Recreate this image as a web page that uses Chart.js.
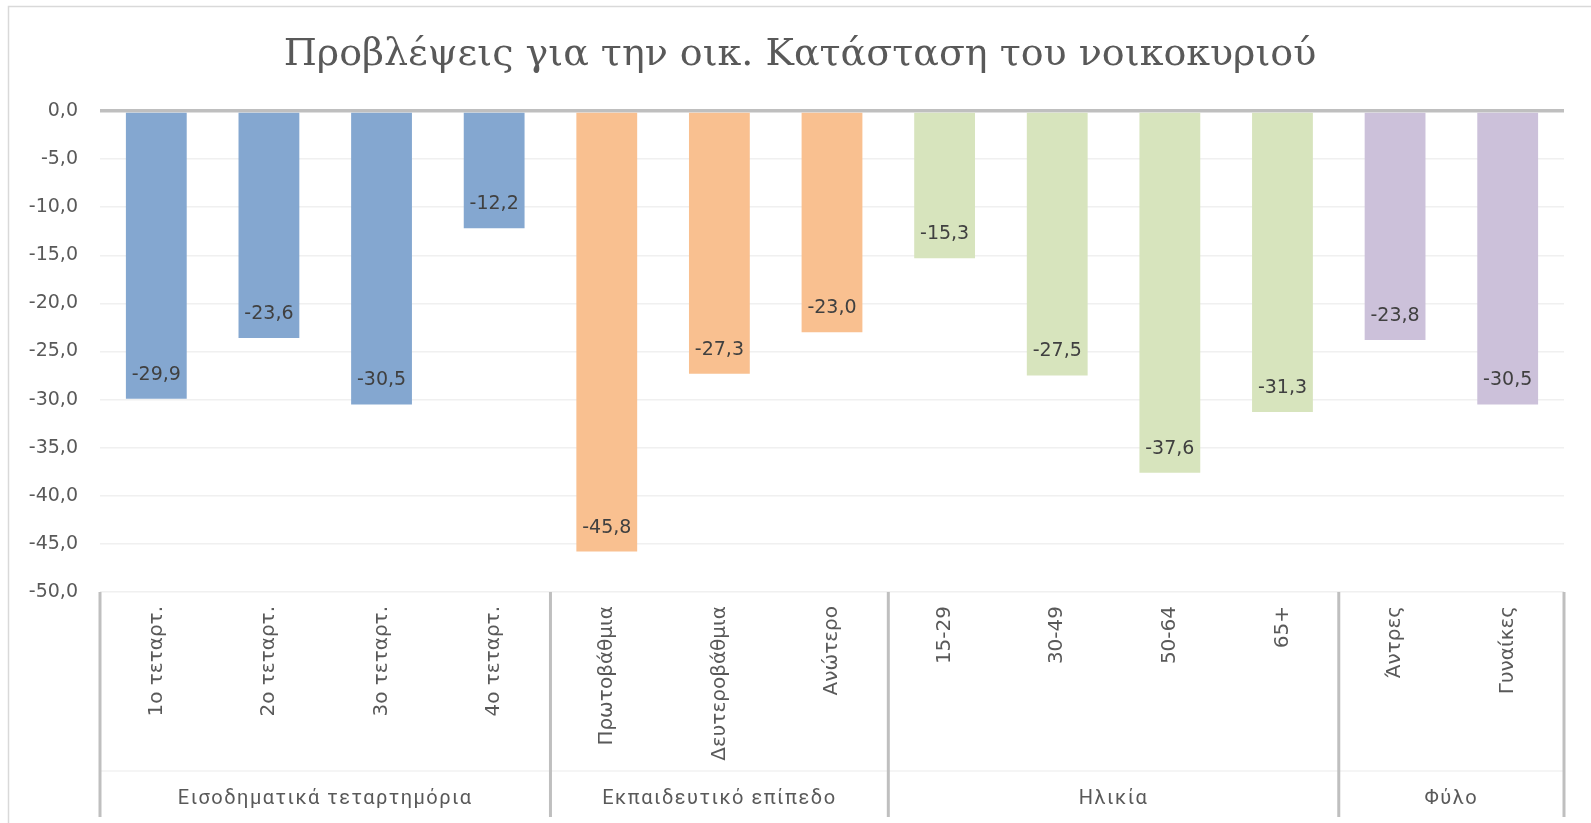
<!DOCTYPE html>
<html>
<head>
<meta charset="utf-8">
<script src="https://cdn.jsdelivr.net/npm/chart.js@4.4.1/dist/chart.umd.min.js"></script>
<style>
  html, body { margin: 0; padding: 0; background: #ffffff; overflow: hidden; }
  #wrap { position: relative; width: 1591px; height: 823px; }
</style>
</head>
<body>
<div id="wrap"><canvas id="c" width="1591" height="823"></canvas></div>
<script>
// ---- Data ----
const titleText = 'Προβλέψεις για την οικ. Κατάσταση του νοικοκυριού';
const categories = ['1ο τεταρτ.', '2ο τεταρτ.', '3ο τεταρτ.', '4ο τεταρτ.', 'Πρωτοβάθμια', 'Δευτεροβάθμια', 'Ανώτερο', '15-29', '30-49', '50-64', '65+', 'Άντρες', 'Γυναίκες'];
const values = [-29.9, -23.6, -30.5, -12.2, -45.8, -27.3, -23.0, -15.3, -27.5, -37.6, -31.3, -23.8, -30.5];
const groupNames = ['Εισοδηματικά τεταρτημόρια', 'Εκπαιδευτικό επίπεδο', 'Ηλικία', 'Φύλο'];
const groupSizes = [4, 3, 4, 2];
const yMin = -50, yMax = 0, yStep = 5;

// ---- Styles ----
const groupColors = ['#84a7d0', '#f9c090', '#d7e4bd', '#ccc1da'];
const barColors = [];
groupSizes.forEach((n, g) => { for (let i = 0; i < n; i++) barColors.push(groupColors[g]); });
const fmt = v => (Math.abs(v) < 1e-9 ? 0 : v).toFixed(1).replace('.', ',');
const numFont = "'DejaVu Sans', 'Noto Sans', sans-serif";

const groupAxisPlugin = {
  id: 'groupAxis',
  beforeDraw(chart) {
    const ctx = chart.ctx;
    ctx.save();
    ctx.strokeStyle = '#d9d9d9';
    ctx.lineWidth = 1.5;
    ctx.strokeRect(8.5, 6.5, 1620, 840);
    ctx.fillStyle = '#595959';
    ctx.font = "38px 'DejaVu Serif', 'Liberation Serif', serif";
    ctx.textAlign = 'center';
    ctx.textBaseline = 'alphabetic';
    ctx.fillText(titleText, (chart.width + 9) / 2, 65);
    ctx.restore();
  },
  afterDraw(chart) {
    const ctx = chart.ctx;
    const xs = chart.scales.x;
    const area = chart.chartArea;
    const n = categories.length;
    const half = (xs.getPixelForValue(1) - xs.getPixelForValue(0)) / 2;
    const bottom = area.bottom + 225;
    const rowLine = area.bottom + 179;
    ctx.save();
    ctx.strokeStyle = '#f2f2f2';
    ctx.lineWidth = 1.5;
    ctx.beginPath();
    ctx.moveTo(area.left, rowLine);
    ctx.lineTo(area.right, rowLine);
    ctx.stroke();
    ctx.strokeStyle = '#bfbfbf';
    ctx.lineWidth = 3;
    let idx = 0;
    const bounds = [0];
    groupSizes.forEach(s => { idx += s; bounds.push(idx); });
    bounds.forEach(b => {
      const x = b < n ? xs.getPixelForValue(b) - half : xs.getPixelForValue(n - 1) + half;
      ctx.beginPath();
      ctx.moveTo(x, area.bottom);
      ctx.lineTo(x, bottom);
      ctx.stroke();
    });
    ctx.fillStyle = '#595959';
    ctx.font = "20px 'Liberation Sans Narrow', 'Roboto', sans-serif";
    try { ctx.letterSpacing = '1.5px'; } catch (e) {}
    ctx.textAlign = 'center';
    ctx.textBaseline = 'middle';
    for (let g = 0; g < groupNames.length; g++) {
      const x0 = xs.getPixelForValue(bounds[g]) - half;
      const x1 = xs.getPixelForValue(bounds[g + 1] - 1) + half;
      ctx.fillText(groupNames[g], (x0 + x1) / 2, area.bottom + 207);
    }
    try { ctx.letterSpacing = '0px'; } catch (e) {}
    const meta = chart.getDatasetMeta(0);
    ctx.fillStyle = '#404040';
    ctx.font = '19px ' + numFont;
    meta.data.forEach((bar, i) => {
      ctx.fillText(fmt(values[i]), bar.x, bar.y - 24);
    });
    ctx.restore();
  }
};

new Chart(document.getElementById('c'), {
  type: 'bar',
  data: {
    labels: categories,
    datasets: [{
      data: values,
      backgroundColor: barColors,
      borderWidth: 0,
      categoryPercentage: 1.0,
      barPercentage: 0.54
    }]
  },
  options: {
    responsive: false,
    devicePixelRatio: 1,
    animation: false,
    layout: { padding: { left: 0, right: 27, top: 111, bottom: 6 } },
    plugins: {
      legend: { display: false },
      tooltip: { enabled: false },
      title: { display: false }
    },
    scales: {
      x: {
        grid: { display: false, drawTicks: false },
        border: { display: false },
        ticks: {
          color: '#595959',
          font: { family: numFont, size: 20 },
          minRotation: 90,
          maxRotation: 90,
          autoSkip: false,
          padding: 14
        },
        afterFit(scale) { scale.height = 225; }
      },
      y: {
        min: yMin,
        max: yMax,
        grid: {
          drawTicks: false,
          color: ctx => (ctx.tick && ctx.tick.value === 0 ? '#bfbfbf' : '#f0f0f0'),
          lineWidth: ctx => (ctx.tick && ctx.tick.value === 0 ? 3.5 : 1.5)
        },
        border: { display: false },
        ticks: {
          stepSize: yStep,
          color: '#595959',
          font: { family: numFont, size: 19 },
          padding: 22,
          callback: v => fmt(v)
        },
        afterFit(scale) { scale.width = 100; }
      }
    }
  },
  plugins: [groupAxisPlugin]
});
</script>
</body>
</html>
